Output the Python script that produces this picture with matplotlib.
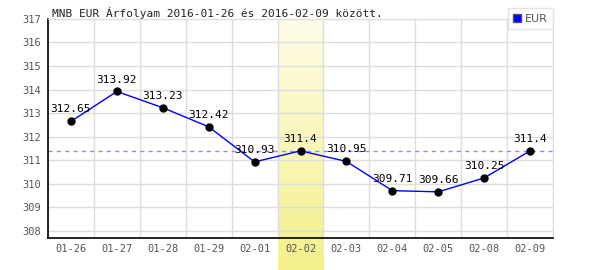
import numpy as np
import matplotlib.pyplot as plt
from matplotlib.colors import LinearSegmentedColormap
from matplotlib.patches import Patch

# data
# ========================================
days = ['01-26', '01-27', '01-28', '01-29', '02-01', '02-02',
        '02-03', '02-04', '02-05', '02-08', '02-09']
rates = [312.65, 313.92, 313.23, 312.42, 310.93, 311.4,
         310.95, 309.71, 309.66, 310.25, 311.4]
highlight_day = '02-02'
ref_rate = 311.4
title = 'MNB EUR Árfolyam 2016-01-26 és 2016-02-09 között.'

mono = ['DejaVu Sans Mono']
fig = plt.figure(figsize=(6, 2.7), dpi=100)

# axes placement in figure fractions
left, right, bottom, top = 0.08, 0.9217, 0.1185, 0.93
n = len(days)

# yellow gradient band behind the highlighted day (runs down past the axis)
bg = fig.add_axes([0, 0, 1, 1], zorder=0)
bg.set_xlim(0, 1)
bg.set_ylim(0, 1)
bg.axis('off')
i = days.index(highlight_day)
x0 = left + (right - left) * i / n
x1 = left + (right - left) * (i + 1) / n
grad = np.linspace(0, 1, 100).reshape(-1, 1)
cmap = LinearSegmentedColormap.from_list('yl', ['#f3f08a', '#fffde8'])
bg.imshow(grad, extent=[x0, x1, 0, top], origin='lower', cmap=cmap,
          aspect='auto', zorder=0)

ax = fig.add_axes([left, bottom, right - left, top - bottom], zorder=1)
ax.set_facecolor('none')
x = np.arange(n)
ax.set_xlim(-0.5, n - 0.5)
ax.set_ylim(307.7, 317)

# grid
ax.set_yticks(np.arange(308, 318))
ax.set_xticks(x)
ax.set_xticklabels(days)
ax.set_xticks(np.arange(n + 1) - 0.5, minor=True)
ax.grid(True, axis='y', color='#dddddd', lw=1)
ax.grid(True, axis='x', which='minor', color='#dddddd', lw=1)
ax.set_axisbelow(True)
ax.tick_params(which='both', length=0)
ax.tick_params(axis='both', labelsize=7.5, labelcolor='#555555')
ax.tick_params(axis='x', pad=4)
ax.tick_params(axis='y', pad=5)
for lab in ax.get_xticklabels() + ax.get_yticklabels():
    lab.set_family(mono)

for s in ['top', 'right']:
    ax.spines[s].set_color('#dddddd')
for s in ['left', 'bottom']:
    ax.spines[s].set_color('black')
    ax.spines[s].set_linewidth(1.2)

# reference line
ax.axhline(ref_rate, color='#8c8cff', lw=1, ls=(0, (3, 3)))

# series
ax.plot(x, rates, color='#0000ff', lw=1, marker='o', ms=5,
        mfc='black', mec='black')
for xi, v in zip(x, rates):
    ax.annotate(f'{v:g}', (xi, v), xytext=(0, 5), textcoords='offset points',
                ha='center', va='bottom', fontsize=8, family=mono,
                color='black')

# title
fig.text(0.087, 0.952, title, fontsize=8, family=mono, color='#222222',
         va='center', ha='left')

# legend box
leg = ax.legend(handles=[Patch(facecolor='#0000ff', edgecolor='#555555')],
                labels=['EUR'], loc='upper right', bbox_to_anchor=(1.0, 1.05),
                handlelength=0.7, handleheight=0.7,
                frameon=True, fancybox=False, borderpad=0.5,
                handletextpad=0.3, borderaxespad=0,
                prop={'family': 'DejaVu Sans', 'size': 8})
leg.get_frame().set_edgecolor('#dddddd')
for t in leg.get_texts():
    t.set_color('#555555')

fig.savefig('out.png', dpi=100)
